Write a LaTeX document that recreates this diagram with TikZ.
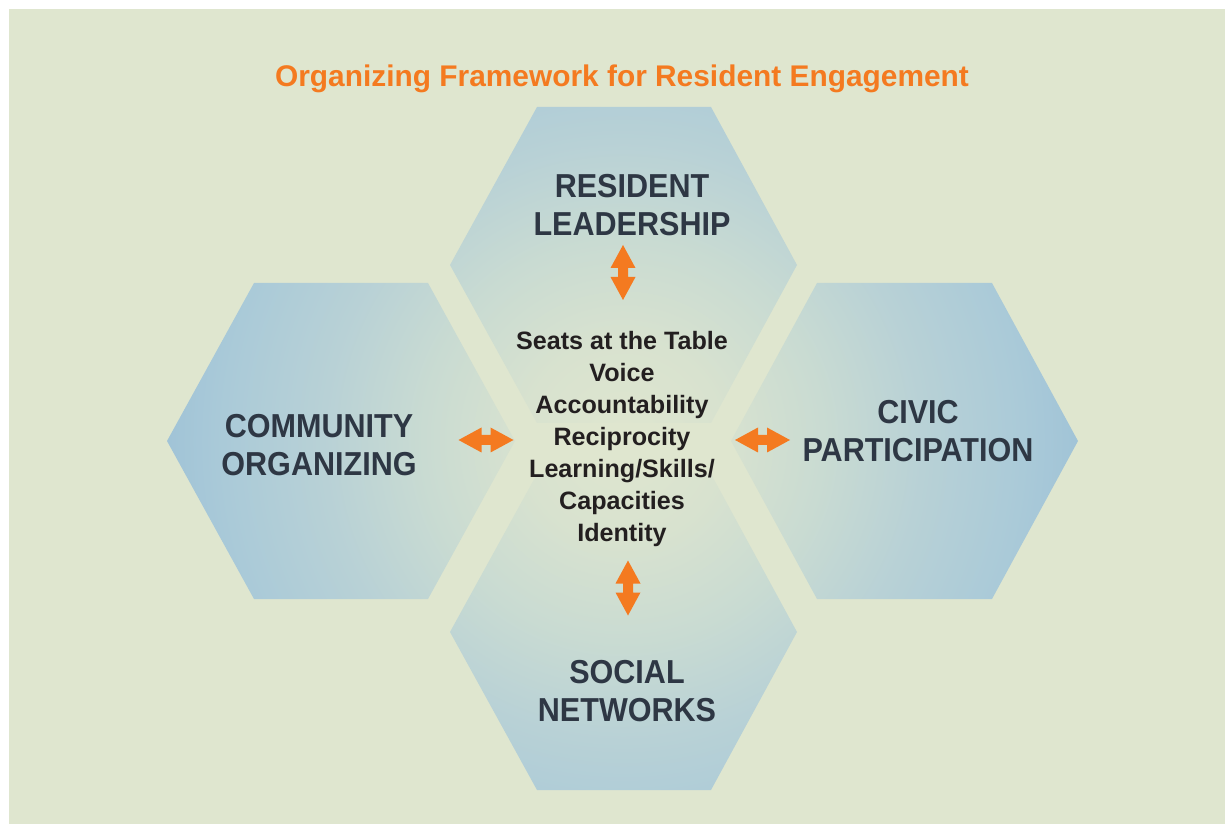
\documentclass[tikz,border=0pt]{standalone}
\usepackage{fontspec}
\setmainfont{Liberation Sans}
\newfontfamily\capfont[FakeStretch=0.92]{Liberation Sans}
\definecolor{bg}{HTML}{DFE6CF}
\definecolor{orng}{HTML}{F47A20}
\definecolor{hexlabel}{HTML}{2E3744}
\definecolor{centertext}{HTML}{231F20}
\definecolor{c0}{HTML}{DFE6CF}
\definecolor{c1}{HTML}{D8E2CF}
\definecolor{c2}{HTML}{C9DBD2}
\definecolor{c3}{HTML}{B8D1D6}
\definecolor{c4}{HTML}{AACAD8}
\definecolor{c5}{HTML}{A0C3D7}
\definecolor{c6}{HTML}{9BC0D7}
\pgfdeclareradialshading{hexshade}{\pgfpoint{0bp}{0bp}}{color(0bp)=(c0); color(5bp)=(c1); color(10bp)=(c2); color(15bp)=(c3); color(20bp)=(c4); color(23bp)=(c5); color(25bp)=(c6); color(50bp)=(c6)}
\tikzset{
  hexlbl/.style={text=hexlabel, align=center, font=\capfont\bfseries\fontsize{18.9}{21.5}\selectfont},
  centerlbl/.style={text=centertext, align=center, font=\bfseries\fontsize{14.3}{18.2}\selectfont},
  titlelbl/.style={text=orng, font=\bfseries\fontsize{17}{20}\selectfont},
  dblarrow/.pic={\fill[orng] (-27.5,0) -- (-4.5,-12.5) -- (-4.5,-5) -- (4.5,-5) -- (4.5,-12.5) -- (27.5,0) -- (4.5,12.5) -- (4.5,5) -- (-4.5,5) -- (-4.5,12.5) -- cycle;}
}
\begin{document}
\begin{tikzpicture}[x=0.02cm,y=-0.02cm]
\useasboundingbox (0,0) rectangle (1225,824);
\fill[white] (0,0) rectangle (1225,824);
\fill[bg] (9,9) rectangle (1225,824);
\begin{scope}
\clip (450,265) -- (537,107) -- (711,107) -- (797,265) -- (711,423) -- (537,423) -- cycle
      (450,632) -- (537,474) -- (711,474) -- (797,632) -- (711,790) -- (537,790) -- cycle
      (167,441) -- (254,283) -- (428,283) -- (515,441) -- (428,599) -- (254,599) -- cycle
      (731,441) -- (817,283) -- (992,283) -- (1078,441) -- (992,599) -- (817,599) -- cycle;
\shade[shading=hexshade] (623,441) circle (500);
\end{scope}
\node[titlelbl] (title) at (622,79) {Organizing Framework for Resident Engagement};
\node[hexlbl] (rl) at (632,205) {RESIDENT\\LEADERSHIP};
\node[hexlbl] (co) at (319,445) {COMMUNITY\\ORGANIZING};
\node[hexlbl] (cp) at (918,431) {CIVIC\\PARTICIPATION};
\node[hexlbl] (sn) at (627,691) {SOCIAL\\NETWORKS};
\node[centerlbl] (core) at (622,439) {Seats at the Table\\Voice\\Accountability\\Reciprocity\\Learning/Skills/\\Capacities\\Identity};
\pic[rotate=90] at (623,272.5) {dblarrow};
\pic[rotate=90] at (628,588) {dblarrow};
\pic at (486,440) {dblarrow};
\pic at (762.5,440) {dblarrow};
\end{tikzpicture}
\end{document}
